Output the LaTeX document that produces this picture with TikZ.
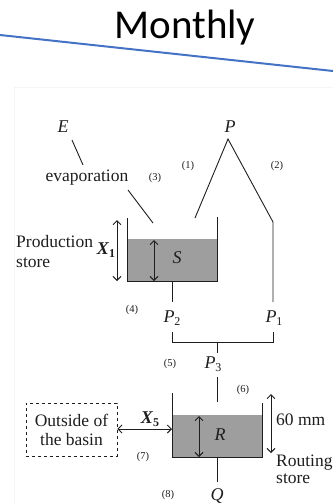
\documentclass[tikz,border=0pt]{standalone}
\usepackage{fontspec}
\setmainfont{Liberation Serif}
\newfontfamily\calib{Carlito}
\usetikzlibrary{arrows.meta}
\definecolor{blueline}{RGB}{68,114,196}
\definecolor{fillg}{RGB}{158,158,158}
\definecolor{inkc}{RGB}{30,30,30}
\newcommand{\subn}[1]{\raisebox{-3.5pt}{\fontsize{12}{12}\selectfont\upshape\mdseries #1}}
\begin{document}
\begin{tikzpicture}[x=1pt,y=-1pt,
  ln/.style={line width=0.9pt, inkc},
  dbl/.style={ln,{Straight Barb[length=4pt,width=8pt]}-{Straight Barb[length=4pt,width=8pt]}},
  lbl/.style={font=\fontsize{17.5}{19}\selectfont, inner sep=0pt, text=inkc},
  ilbl/.style={font=\fontsize{18}{20}\selectfont\itshape, inner sep=0pt, text=inkc},
  num/.style={font=\fontsize{10.5}{12}\selectfont, inner sep=0pt, text=inkc}]
\useasboundingbox (0,0) rectangle (333,504);
% title and blue line
\node[font=\calib\fontsize{41}{45}\selectfont, inner sep=0pt, anchor=base] (title) at (185,38) {Monthly};
\coordinate (bl1) at (0,35); \coordinate (bl2) at (333,71);
\draw[line width=2pt, blueline] (bl1) -- (bl2);
% faint frame of the embedded image
\coordinate (fr1) at (14,504); \coordinate (fr2) at (14,87); \coordinate (fr3) at (333,87);
\draw[black!4, line width=0.8pt] (fr1) -- (fr2) -- (fr3);

% top labels
\node[ilbl] (E) at (63,127) {E};
\node[ilbl] (P) at (230,127) {P};
\node[lbl] (evap) at (87,178) {evaporation};
\node[num] (n3) at (155,178) {(3)};
\node[num] (n1) at (188,166) {(1)};
\node[num] (n2) at (277,166) {(2)};
\coordinate (e1) at (72,140); \coordinate (e2) at (83,165);
\draw[ln] (e1) -- (e2);
\coordinate (ev1) at (128,190); \coordinate (ev2) at (153,223);
\draw[ln] (ev1) -- (ev2);
\coordinate (apex) at (228,139); \coordinate (pl) at (195,218); \coordinate (pr) at (273,222);
\coordinate (p1top) at (273,302);
\draw[ln] (pl) -- (apex) -- (pr) -- (p1top);

% production store
\fill[fillg] (127,239) rectangle (217,281);
\coordinate (ps1) at (127,218); \coordinate (ps2) at (127,281); \coordinate (ps3) at (217,281); \coordinate (ps4) at (217,217);
\draw[ln] (ps1) -- (ps2) -- (ps3) -- (ps4);
\coordinate (x1a) at (117,220); \coordinate (x1b) at (117,281);
\draw[dbl] (x1a) -- (x1b);
\coordinate (sa) at (154,240); \coordinate (sb) at (154,281);
\draw[dbl] (sa) -- (sb);
\node[ilbl] (S) at (177,258) {S};
\node[font=\fontsize{18}{20}\selectfont\bfseries\itshape, inner sep=0pt, text=inkc] (X1) at (106,250) {X\subn{\bfseries 1}};
\node[lbl, anchor=west] (prod) at (16,242) {Production};
\node[lbl, anchor=west] (pstore) at (16,263) {store};
\node[num] (n4) at (132,310) {(4)};
\coordinate (p2top) at (172,281); \coordinate (p2bot) at (172,302);
\draw[ln] (p2top) -- (p2bot);
\node[ilbl] (P2) at (172,318) {P\subn{2}};
\node[ilbl] (P1) at (274,318) {P\subn{1}};

% bracket
\coordinate (b1) at (172,332); \coordinate (b2) at (172,342); \coordinate (b3) at (273,342); \coordinate (b4) at (273,332);
\draw[ln] (b1) -- (b2) -- (b3) -- (b4);
\coordinate (st1) at (217,342); \coordinate (st2) at (217,353);
\draw[ln] (st1) -- (st2);
\node[num] (n5) at (170,364) {(5)};
\node[ilbl] (P3) at (213,364) {P\subn{3}};
\coordinate (p3a) at (217,377); \coordinate (p3b) at (217,402);
\draw[ln] (p3a) -- (p3b);
\node[num] (n6) at (243,390) {(6)};

% routing store
\fill[fillg] (172,415) rectangle (262,457);
\coordinate (rs1) at (172,393); \coordinate (rs2) at (172,457); \coordinate (rs3) at (262,457); \coordinate (rs4) at (262,403);
\draw[ln] (rs1) -- (rs2) -- (rs3) -- (rs4);
\coordinate (ra) at (199,416); \coordinate (rb) at (199,457);
\draw[dbl] (ra) -- (rb);
\node[ilbl] (R) at (220,435) {R};
\coordinate (ma) at (271,394); \coordinate (mb) at (271,453);
\draw[dbl] (ma) -- (mb);
\node[lbl, anchor=west] (mm) at (276,420) {60 mm};
\node[lbl, anchor=west] (rout) at (276,463) {Routing};
\node[lbl, anchor=west] (rstore) at (276,479) {store};

% outside box
\node[draw=inkc, dashed, line width=0.8pt, minimum width=91pt, minimum height=53pt, inner sep=0pt, align=center, font=\fontsize{17.5}{19}\selectfont, text=inkc] (out) at (71.5,429.5) {Outside of\\the basin};
\coordinate (x5r) at (172,429);
\draw[dbl] (out.east |- x5r) -- (x5r);
\node[font=\fontsize{18}{20}\selectfont\bfseries\itshape, inner sep=0pt, text=inkc] (X5) at (150,419) {X\subn{\bfseries 5}};
\node[num] (n7) at (143,457) {(7)};

% outflow
\coordinate (oa) at (217,457); \coordinate (ob) at (217,482);
\draw[ln] (oa) -- (ob);
\node[num] (n8) at (168,495) {(8)};
\node[ilbl] (Q) at (217,496) {Q};
\end{tikzpicture}
\end{document}
